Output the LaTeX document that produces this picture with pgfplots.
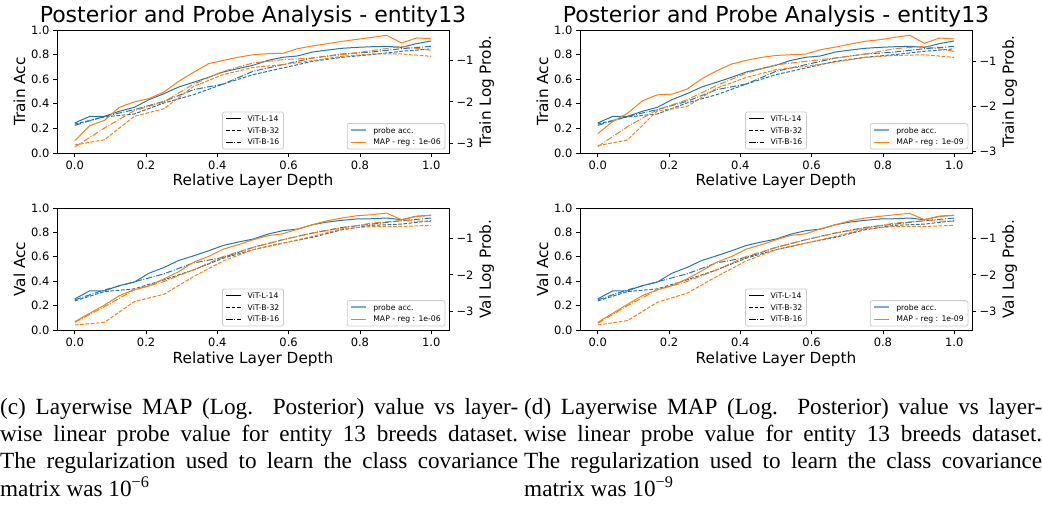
\documentclass[border=0pt]{standalone}
\usepackage{fontspec}
\setmainfont{DejaVu Sans}
\newfontfamily\capfont{Liberation Serif}
\usepackage{pgfplots}
\usepackage{pgfplotstable}
\pgfplotsset{compat=1.18}
\definecolor{tabblue}{HTML}{1F77B4}
\definecolor{taborange}{HTML}{FF7F0E}
\tikzset{
 sld/.style={line width=1pt},
 dsh/.style={line width=1pt, dash pattern=on 3.7pt off 1.6pt},
 dsd/.style={line width=1pt, dash pattern=on 6.4pt off 1.6pt on 1pt off 1.6pt},
}
\pgfplotstableread{
x ptr pva m6tr m6va m9tr m9va
0.00000 0.244 0.255 -2.944 -3.276 -2.609 -3.293
0.04167 0.298 0.321 -2.580 -3.047 -2.341 -3.047
0.08333 0.298 0.321 -2.448 -2.821 -2.154 -2.801
0.12500 0.339 0.364 -2.134 -2.565 -1.876 -2.565
0.16667 0.371 0.392 -2.003 -2.409 -1.741 -2.409
0.20833 0.434 0.466 -1.922 -2.299 -1.727 -2.293
0.25000 0.482 0.512 -1.761 -2.110 -1.614 -2.110
0.29167 0.537 0.570 -1.501 -1.911 -1.383 -1.891
0.33333 0.575 0.608 -1.283 -1.655 -1.204 -1.655
0.37500 0.615 0.649 -1.074 -1.499 -1.052 -1.499
0.41667 0.659 0.693 -0.993 -1.300 -0.969 -1.300
0.45833 0.686 0.721 -0.918 -1.180 -0.903 -1.180
0.50000 0.713 0.745 -0.856 -1.044 -0.859 -1.044
0.54167 0.753 0.786 -0.829 -0.934 -0.843 -0.927
0.58333 0.778 0.814 -0.823 -0.881 -0.829 -0.881
0.62500 0.789 0.827 -0.709 -0.755 -0.730 -0.745
0.66667 0.821 0.863 -0.643 -0.635 -0.672 -0.635
0.70833 0.837 0.885 -0.587 -0.526 -0.603 -0.526
0.75000 0.851 0.899 -0.530 -0.452 -0.542 -0.452
0.79167 0.859 0.910 -0.482 -0.389 -0.507 -0.406
0.83333 0.864 0.912 -0.434 -0.363 -0.454 -0.363
0.87500 0.867 0.918 -0.383 -0.316 -0.407 -0.326
0.91667 0.859 0.904 -0.572 -0.499 -0.589 -0.499
0.95833 0.889 0.932 -0.449 -0.406 -0.468 -0.406
1.00000 0.911 0.940 -0.464 -0.379 -0.490 -0.379
}\Ltab
\pgfplotstableread{
x b32ptr b32pva b32m6tr b32m6va b32m9tr b32m9va b16ptr b16pva b16m6tr b16m6va b16m9tr b16m9va
0.00000 0.236 0.238 -3.049 -3.366 -2.879 -3.366 0.225 0.247 -3.097 -3.293 -2.901 -3.319
0.08333 0.293 0.315 -2.920 -3.293 -2.752 -3.246 0.298 0.329 -2.636 -2.864 -2.452 -2.838
0.16667 0.317 0.337 -2.353 -2.728 -2.102 -2.748 0.352 0.395 -2.215 -2.409 -2.077 -2.409
0.25000 0.407 0.411 -2.167 -2.529 -2.003 -2.502 0.420 0.460 -2.003 -2.183 -1.854 -2.183
0.33333 0.474 0.493 -1.623 -2.047 -1.592 -2.047 0.515 0.550 -1.567 -1.864 -1.532 -1.864
0.41667 0.561 0.589 -1.340 -1.618 -1.352 -1.618 0.561 0.595 -1.259 -1.499 -1.256 -1.499
0.50000 0.637 0.658 -1.163 -1.316 -1.179 -1.316 0.664 0.677 -1.056 -1.253 -1.069 -1.253
0.58333 0.691 0.712 -1.098 -1.137 -1.104 -1.137 0.718 0.740 -0.975 -1.044 -0.992 -1.044
0.66667 0.745 0.759 -0.999 -0.954 -1.008 -0.954 0.772 0.795 -0.936 -0.861 -0.917 -0.861
0.75000 0.778 0.822 -0.894 -0.745 -0.903 -0.745 0.805 0.841 -0.853 -0.725 -0.829 -0.725
0.83333 0.800 0.858 -0.838 -0.682 -0.859 -0.682 0.821 0.868 -0.757 -0.589 -0.708 -0.589
0.91667 0.827 0.868 -0.838 -0.682 -0.843 -0.682 0.848 0.896 -0.652 -0.526 -0.655 -0.526
1.00000 0.846 0.896 -0.894 -0.652 -0.903 -0.652 0.867 0.918 -0.748 -0.545 -0.768 -0.545
}\Btab
\pgfplotsset{
 base/.style={
  scale only axis, width=392pt, anchor=south west,
  xmin=-0.05, xmax=1.05,
  tick align=outside, major tick length=4pt,
  every tick/.style={black, line width=0.8pt},
  axis line style={line width=0.9pt},
  tick label style={font=\fontsize{11.5}{12}\selectfont},
  legend cell align=left,
  legend image code/.code={\draw[##1] (0pt,0pt) -- (15pt,0pt);},
  legend style={font=\fontsize{7.7}{8}\selectfont, draw=black!20, line width=0.8pt,
   rounded corners=2pt, fill=white, fill opacity=0.8, text opacity=1,
   inner xsep=3.2pt, inner ysep=3pt, row sep=4.1pt,
   nodes={inner sep=1pt, text height=5.6pt, text depth=0pt},
   /tikz/every odd column/.append style={column sep=5pt}},
  every axis y label/.style={at={(axis description cs:-0.0816,0.5)}, rotate=90, anchor=base, font=\fontsize{15.3}{16}\selectfont},
  every axis x label/.style={at={(axis description cs:0.5,0)}, anchor=base, yshift=-33pt, font=\fontsize{15.3}{16}\selectfont},
  every axis title/.style={at={(axis description cs:0.5,1)}, anchor=base, yshift=7.5pt, font=\fontsize{22}{24}\selectfont},
 },
 leftax/.style={base, ymin=0, ymax=1,
  xtick={0,0.2,0.4,0.6,0.8,1}, xticklabels={0.0,0.2,0.4,0.6,0.8,1.0},
  ytick={0,0.2,0.4,0.6,0.8,1}, yticklabels={0.0,0.2,0.4,0.6,0.8,1.0},
  xtick pos=left, ytick pos=left,
  xlabel={Relative Layer Depth},
  legend style={at={(0.5,0.03)}, anchor=south}},
 rightax/.style={base, axis x line=none, axis y line*=right,
  ytick={-3,-2,-1}, yticklabels={−3,−2,−1},
  every axis y label/.style={at={(axis description cs:1.107,0.5)}, rotate=90, anchor=base, font=\fontsize{15.3}{16}\selectfont},
  legend style={at={(0.9906,0.03)}, anchor=south east}},
}
\newcommand{\stylelegend}{%
 \addlegendimage{black, sld}\addlegendentry{ViT-L-14}
 \addlegendimage{black, dsh}\addlegendentry{ViT-B-32}
 \addlegendimage{black, dsd}\addlegendentry{ViT-B-16}}
\begin{document}
\begin{tikzpicture}
\path[use as bounding box] (0,0) rectangle (1042pt,504pt);
% ---------- left top
\begin{axis}[leftax, at={(57pt,351pt)}, height=123pt, title={Posterior and Probe Analysis - entity13}, ylabel={Train Acc}]
 \stylelegend
 \addplot[tabblue, sld, forget plot] table[x=x,y=ptr]{\Ltab};
 \addplot[tabblue, dsh, forget plot] table[x=x,y=b32ptr]{\Btab};
 \addplot[tabblue, dsd, forget plot] table[x=x,y=b16ptr]{\Btab};
\end{axis}
\begin{axis}[rightax, at={(57pt,351pt)}, height=123pt, ymin=-3.243, ymax=-0.255, ylabel={Train Log Prob.}]
 \addlegendimage{tabblue, opacity=0.6, line width=2pt}\addlegendentry{probe acc.}
 \addlegendimage{taborange, sld}\addlegendentry{MAP - reg : 1e-06}
 \addplot[taborange, sld, forget plot] table[x=x,y=m6tr]{\Ltab};
 \addplot[taborange, dsh, forget plot] table[x=x,y=b32m6tr]{\Btab};
 \addplot[taborange, dsd, forget plot] table[x=x,y=b16m6tr]{\Btab};
\end{axis}
% ---------- left bottom
\begin{axis}[leftax, at={(57pt,174pt)}, height=122pt, ylabel={Val Acc}]
 \stylelegend
 \addplot[tabblue, sld, forget plot] table[x=x,y=pva]{\Ltab};
 \addplot[tabblue, dsh, forget plot] table[x=x,y=b32pva]{\Btab};
 \addplot[tabblue, dsd, forget plot] table[x=x,y=b16pva]{\Btab};
\end{axis}
\begin{axis}[rightax, at={(57pt,174pt)}, height=122pt, ymin=-3.502, ymax=-0.179, ylabel={Val Log Prob.}]
 \addlegendimage{tabblue, opacity=0.6, line width=2pt}\addlegendentry{probe acc.}
 \addlegendimage{taborange, sld}\addlegendentry{MAP - reg : 1e-06}
 \addplot[taborange, sld, forget plot] table[x=x,y=m6va]{\Ltab};
 \addplot[taborange, dsh, forget plot] table[x=x,y=b32m6va]{\Btab};
 \addplot[taborange, dsd, forget plot] table[x=x,y=b16m6va]{\Btab};
\end{axis}
% ---------- right top
\begin{axis}[leftax, at={(580pt,351pt)}, height=123pt, title={Posterior and Probe Analysis - entity13}, ylabel={Train Acc}]
 \stylelegend
 \addplot[tabblue, sld, forget plot] table[x=x,y=ptr]{\Ltab};
 \addplot[tabblue, dsh, forget plot] table[x=x,y=b32ptr]{\Btab};
 \addplot[tabblue, dsd, forget plot] table[x=x,y=b16ptr]{\Btab};
\end{axis}
\begin{axis}[rightax, at={(580pt,351pt)}, height=123pt, ymin=-3.044, ymax=-0.289, ylabel={Train Log Prob.}]
 \addlegendimage{tabblue, opacity=0.6, line width=2pt}\addlegendentry{probe acc.}
 \addlegendimage{taborange, sld}\addlegendentry{MAP - reg : 1e-09}
 \addplot[taborange, sld, forget plot] table[x=x,y=m9tr]{\Ltab};
 \addplot[taborange, dsh, forget plot] table[x=x,y=b32m9tr]{\Btab};
 \addplot[taborange, dsd, forget plot] table[x=x,y=b16m9tr]{\Btab};
\end{axis}
% ---------- right bottom
\begin{axis}[leftax, at={(580pt,174pt)}, height=122pt, ylabel={Val Acc}]
 \stylelegend
 \addplot[tabblue, sld, forget plot] table[x=x,y=pva]{\Ltab};
 \addplot[tabblue, dsh, forget plot] table[x=x,y=b32pva]{\Btab};
 \addplot[tabblue, dsd, forget plot] table[x=x,y=b16pva]{\Btab};
\end{axis}
\begin{axis}[rightax, at={(580pt,174pt)}, height=122pt, ymin=-3.502, ymax=-0.179, ylabel={Val Log Prob.}]
 \addlegendimage{tabblue, opacity=0.6, line width=2pt}\addlegendentry{probe acc.}
 \addlegendimage{taborange, sld}\addlegendentry{MAP - reg : 1e-09}
 \addplot[taborange, sld, forget plot] table[x=x,y=m9va]{\Ltab};
 \addplot[taborange, dsh, forget plot] table[x=x,y=b32m9va]{\Btab};
 \addplot[taborange, dsd, forget plot] table[x=x,y=b16m9va]{\Btab};
\end{axis}
% ---------- captions
\node[anchor=north west, inner sep=0pt, text width=518pt, align=justify, font=\capfont\fontsize{23.2}{27.3}\selectfont] at (0pt,106pt)
 {(c) Layerwise MAP (Log. Posterior) value vs layer-\linebreak wise linear probe value for entity 13 breeds dataset.\linebreak The regularization used to learn the class covariance\linebreak matrix was 10\textsuperscript{−6}};
\node[anchor=north west, inner sep=0pt, text width=518pt, align=justify, font=\capfont\fontsize{23.2}{27.3}\selectfont] at (524pt,106pt)
 {(d) Layerwise MAP (Log. Posterior) value vs layer-\linebreak wise linear probe value for entity 13 breeds dataset.\linebreak The regularization used to learn the class covariance\linebreak matrix was 10\textsuperscript{−9}};
\end{tikzpicture}
\end{document}
